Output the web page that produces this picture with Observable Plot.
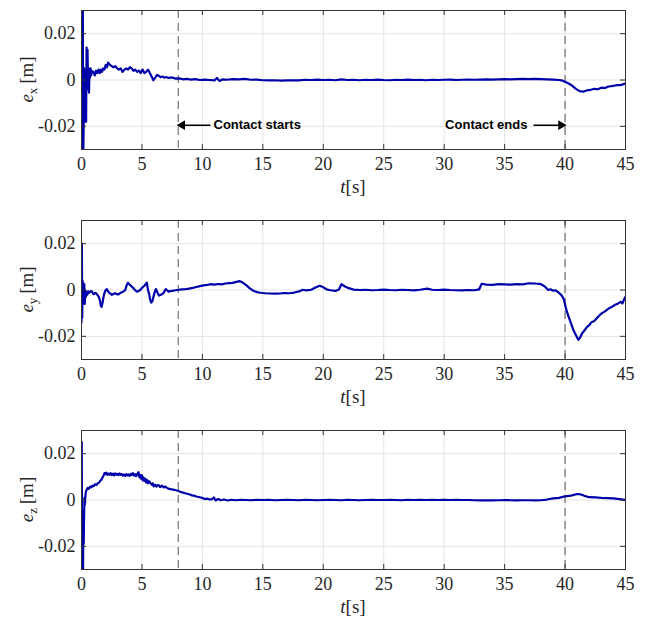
<!DOCTYPE html>
<html><head><meta charset="utf-8">
<script src="https://cdn.jsdelivr.net/npm/d3@7"></script>
<script src="https://cdn.jsdelivr.net/npm/@observablehq/plot@0.6"></script>
<style>body{margin:0;background:#fff}#chart svg{display:block}</style>
</head><body><div id="chart"></div>
<script>
const xTicks = [0, 5, 10, 15, 20, 25, 30, 35, 40, 45];
const yTicks = [-0.02, 0, 0.02];
const yDomain = [-0.03, 0.03];
const contactTimes = [8, 40];
const axisSubscripts = ["x", "y", "z"];
const annotationTexts = ["Contact starts", "Contact ends"];
const annotationTextT = [10.92, 36.89];
const annotationArrowTail = [10.67, 37.39];
const annotationY = -0.0195;

const exPoints = [[0,0],[0.02,-0.035],[0.05,0.035],[0.08,-0.035],[0.11,0.03],[0.14,-0.035],[0.18,-0.02],[0.22,0.005],[0.26,-0.018],[0.3,-0.017],[0.34,-0.005],[0.38,-0.018],[0.42,0.014],[0.46,0.005],[0.5,0.013],[0.54,-0.004],[0.58,0.005],[0.62,-0.0055],[0.66,0.004],[0.7,0.001],[0.75,0.005],[0.8,0.002],[0.85,0.004],[0.9,0.003],[1.0,0.0035],[1.1,0.002],[1.2,0.004],[1.3,0.003],[1.4,0.0045],[1.5,0.003],[1.6,0.0045],[1.7,0.0035],[1.8,0.005],[1.9,0.0045],[2.0,0.0065],[2.1,0.0055],[2.2,0.0075],[2.35,0.0065],[2.5,0.006],[2.65,0.0055],[2.8,0.006],[2.95,0.005],[3.1,0.0045],[3.25,0.005],[3.4,0.0035],[3.55,0.0045],[3.7,0.005],[3.85,0.0045],[4.0,0.0055],[4.15,0.005],[4.3,0.004],[4.45,0.0045],[4.6,0.0035],[4.75,0.004],[4.9,0.003],[5.05,0.0045],[5.2,0.003],[5.35,0.0035],[5.5,0.0045],[5.65,0.003],[5.8,0.0015],[5.95,-0.0001],[6.1,0.001],[6.25,0.0022],[6.4,0.0018],[6.55,0.0012],[6.7,0.0015],[6.85,0.001],[7.0,0.0013],[7.2,0.0009],[7.5,0.0011],[7.8,0.0006],[8.1,0.0007],[8.4,0.0003],[8.7,0.0005],[9.0,0.0002],[9.4,0.0004],[9.8,0.0],[10.2,0.0002],[10.6,0.0],[11.0,-0.0002],[11.2,0.0009],[11.4,-0.0004],[11.7,0.0003],[12.0,0.0001],[12.5,0.0004],[13.0,0.0003],[13.5,0.0005],[14.0,0.0001],[14.5,0.0002],[15.0,-0.0001],[15.5,-0.0002],[16.0,-0.0001],[16.5,-0.0003],[17.0,-0.0002],[17.5,-0.0001],[18.0,-0.0002],[18.5,0.0001],[19.0,0.0],[19.5,0.0002],[20.0,0.0],[20.5,0.0001],[21.0,-0.0001],[21.5,0.0003],[22.0,0.0],[22.5,0.0001],[23.0,-0.0001],[23.5,0.0001],[24.0,0.0],[24.5,0.0002],[25.0,0.0],[25.5,-0.0001],[26.0,0.0001],[26.5,0.0],[27.0,0.0002],[27.5,0.0],[28.0,0.0001],[28.5,-0.0001],[29.0,0.0001],[29.5,0.0],[30.0,0.0001],[30.5,0.0002],[31.0,0.0],[31.5,0.0001],[32.0,0.0002],[32.5,0.0001],[33.0,0.0002],[33.5,0.0003],[34.0,0.0002],[34.5,0.0003],[35.0,0.0004],[35.5,0.0003],[36.0,0.0004],[36.5,0.0005],[37.0,0.0004],[37.5,0.0005],[38.0,0.0004],[38.5,0.0003],[39.0,0.0002],[39.5,0.0],[39.8,-0.0003],[40.0,-0.0008],[40.3,-0.0015],[40.6,-0.0025],[40.9,-0.0038],[41.2,-0.0048],[41.5,-0.005],[41.8,-0.0045],[42.1,-0.0043],[42.4,-0.0038],[42.7,-0.004],[43.0,-0.0033],[43.3,-0.0035],[43.6,-0.0028],[44.0,-0.0025],[44.3,-0.0022],[44.6,-0.0022],[45.0,-0.0015]];

const eyPoints = [[0,-0.014],[0.03,0.02],[0.06,-0.012],[0.09,0.004],[0.12,-0.006],[0.15,0.003],[0.19,-0.004],[0.23,0.0025],[0.27,-0.006],[0.31,0.0],[0.36,-0.003],[0.42,-0.0008],[0.48,-0.002],[0.55,-0.0006],[0.62,-0.0012],[0.7,-0.0008],[0.78,-0.0004],[0.86,-0.0006],[0.94,-0.0015],[1.02,-0.0018],[1.12,-0.0012],[1.22,-0.0014],[1.32,-0.0022],[1.42,-0.0028],[1.52,-0.0045],[1.6,-0.0068],[1.66,-0.0073],[1.74,-0.0055],[1.82,-0.003],[1.9,-0.0013],[2.0,0.0],[2.1,0.0004],[2.2,-0.0006],[2.3,-0.0012],[2.4,-0.0016],[2.52,-0.0021],[2.64,-0.0017],[2.78,-0.0014],[2.92,-0.0018],[3.06,-0.0019],[3.2,-0.0013],[3.34,-0.001],[3.48,-0.0006],[3.62,0.0],[3.72,0.0018],[3.84,0.0031],[3.94,0.0026],[4.03,0.0021],[4.17,0.0014],[4.31,0.0007],[4.45,-0.0002],[4.58,-0.0007],[4.72,-0.0004],[4.86,0.0],[5.0,0.0009],[5.13,0.0015],[5.27,0.0022],[5.41,0.0032],[5.5,0.0],[5.6,-0.0018],[5.68,-0.0042],[5.77,-0.0054],[5.86,-0.0048],[5.96,-0.0028],[6.06,-0.0008],[6.15,0.0004],[6.24,-0.0005],[6.32,-0.0015],[6.42,-0.0024],[6.51,-0.0022],[6.65,-0.0018],[6.79,-0.0013],[6.9,-0.0002],[6.98,0.0004],[7.1,-0.0002],[7.2,-0.0007],[7.34,-0.0005],[7.48,-0.0004],[7.62,-0.0003],[7.76,-0.0001],[7.9,0.0],[8.05,0.0001],[8.3,0.0003],[8.6,0.0004],[8.9,0.0006],[9.2,0.0009],[9.5,0.0013],[9.8,0.0017],[10.1,0.002],[10.4,0.0022],[10.7,0.0025],[11.0,0.0023],[11.3,0.0026],[11.6,0.0024],[11.9,0.0028],[12.2,0.003],[12.5,0.0031],[12.8,0.0035],[13.1,0.0038],[13.3,0.0033],[13.6,0.0022],[13.9,0.0008],[14.2,-0.0003],[14.5,-0.0009],[14.8,-0.0012],[15.2,-0.0014],[15.6,-0.0015],[16.0,-0.0016],[16.4,-0.0015],[16.8,-0.0013],[17.2,-0.0014],[17.6,-0.0011],[18.0,-0.0006],[18.3,0.0001],[18.6,-0.0002],[19.0,0.0001],[19.4,0.0012],[19.7,0.0018],[20.0,0.0012],[20.3,0.0002],[20.6,-0.0001],[21.0,-0.0004],[21.3,0.0002],[21.5,0.0025],[21.8,0.0015],[22.1,0.0008],[22.5,0.0002],[23.0,0.0],[23.5,0.0001],[24.0,-0.0001],[24.5,0.0],[25.0,0.0002],[25.5,0.0],[26.0,-0.0001],[26.5,0.0001],[27.0,0.0],[27.5,-0.0002],[28.0,0.0001],[28.6,0.0006],[29.0,0.0001],[29.5,0.0],[30.0,0.0002],[30.5,0.0],[31.0,-0.0001],[31.5,-0.0002],[32.0,0.0],[32.5,-0.0001],[32.9,0.0003],[33.1,0.0027],[33.5,0.0023],[34.0,0.0022],[34.5,0.0025],[35.0,0.0024],[35.5,0.0023],[36.0,0.0025],[36.5,0.0024],[37.0,0.0029],[37.5,0.0028],[38.0,0.0025],[38.3,0.0016],[38.6,0.0],[38.8,0.0003],[39.0,-0.0003],[39.2,-0.0001],[39.4,-0.0008],[39.7,-0.0022],[39.9,-0.004],[40.1,-0.0085],[40.3,-0.0116],[40.5,-0.0145],[40.7,-0.0174],[40.9,-0.0195],[41.1,-0.0215],[41.25,-0.0205],[41.4,-0.0188],[41.6,-0.0175],[41.8,-0.016],[42.0,-0.0152],[42.2,-0.0138],[42.4,-0.0135],[42.6,-0.0123],[42.8,-0.0112],[43.0,-0.0102],[43.3,-0.0092],[43.6,-0.008],[43.9,-0.0072],[44.1,-0.0065],[44.4,-0.0058],[44.6,-0.0051],[44.75,-0.0058],[44.9,-0.0038],[45.0,-0.0029]];

const ezPoints = [[0,0.0],[0.02,0.025],[0.04,-0.01],[0.06,-0.035],[0.09,-0.005],[0.12,-0.035],[0.15,-0.012],[0.18,-0.019],[0.22,-0.005],[0.25,0.001],[0.28,-0.002],[0.31,0.001],[0.36,0.0035],[0.44,0.0046],[0.52,0.0052],[0.6,0.0048],[0.72,0.0058],[0.82,0.0055],[0.92,0.0062],[1.02,0.006],[1.13,0.0068],[1.24,0.0065],[1.35,0.0072],[1.45,0.0075],[1.55,0.0083],[1.65,0.0088],[1.74,0.0097],[1.82,0.0105],[1.9,0.0116],[1.98,0.0112],[2.06,0.0118],[2.14,0.0108],[2.24,0.0114],[2.34,0.0109],[2.42,0.0116],[2.51,0.0108],[2.6,0.0114],[2.7,0.0106],[2.79,0.0115],[2.88,0.0109],[2.97,0.0113],[3.06,0.0107],[3.15,0.0115],[3.25,0.0109],[3.34,0.0112],[3.43,0.0105],[3.52,0.011],[3.62,0.0104],[3.71,0.0112],[3.8,0.0106],[3.89,0.011],[3.98,0.0104],[4.08,0.0113],[4.17,0.0108],[4.26,0.0116],[4.35,0.0105],[4.44,0.0111],[4.53,0.0103],[4.62,0.0113],[4.72,0.012],[4.79,0.0098],[4.86,0.0108],[4.93,0.0092],[5.0,0.0107],[5.07,0.0085],[5.13,0.0097],[5.2,0.0082],[5.27,0.0092],[5.34,0.0076],[5.41,0.0087],[5.5,0.0072],[5.6,0.0081],[5.69,0.0074],[5.8,0.0066],[5.9,0.0072],[5.96,0.0059],[6.1,0.0066],[6.2,0.0058],[6.3,0.0064],[6.38,0.0064],[6.5,0.0056],[6.65,0.0062],[6.8,0.0054],[6.95,0.0058],[7.07,0.0052],[7.2,0.0049],[7.35,0.0047],[7.48,0.0046],[7.65,0.0044],[7.8,0.0042],[8.03,0.0039],[8.2,0.0035],[8.4,0.0032],[8.58,0.0029],[8.75,0.0027],[8.95,0.0024],[9.14,0.002],[9.3,0.0019],[9.5,0.0015],[9.69,0.0013],[9.85,0.0011],[10.0,0.0009],[10.2,0.0004],[10.38,0.0006],[10.6,0.0002],[10.8,0.0004],[10.95,0.0011],[11.1,-0.0002],[11.3,0.0005],[11.5,-0.0001],[11.8,0.0002],[12.1,-0.0002],[12.4,0.0001],[12.8,-0.0001],[13.2,0.0001],[13.6,0.0],[14.0,-0.0001],[14.5,0.0001],[15.0,0.0],[15.5,0.0001],[16.0,-0.0001],[16.5,0.0],[17.0,0.0001],[17.5,0.0],[18.0,-0.0001],[18.5,0.0001],[19.0,0.0],[19.5,-0.0001],[20.0,0.0],[20.5,0.0001],[21.0,0.0],[21.5,-0.0001],[22.0,0.0001],[22.5,0.0],[23.0,-0.0001],[23.5,0.0],[24.0,0.0001],[24.5,0.0],[25.0,0.0],[25.5,0.0001],[26.0,0.0],[26.5,-0.0001],[27.0,0.0001],[27.5,0.0],[28.0,0.0001],[28.5,0.0],[29.0,0.0001],[29.5,0.0],[30.0,0.0001],[30.5,0.0],[31.0,0.0001],[31.5,0.0],[32.0,0.0],[32.5,-0.0001],[33.0,-0.0002],[33.5,-0.0001],[34.0,-0.0002],[34.5,-0.0001],[35.0,0.0],[35.5,-0.0001],[36.0,-0.0002],[36.5,-0.0001],[37.0,-0.0001],[37.5,-0.0002],[38.0,-0.0001],[38.5,0.0002],[39.0,0.0007],[39.5,0.0009],[40.0,0.0016],[40.5,0.0019],[41.0,0.0026],[41.3,0.0024],[41.6,0.0018],[42.0,0.0012],[42.5,0.0011],[43.0,0.0009],[43.5,0.0008],[44.0,0.0007],[44.5,0.0004],[45.0,0.0]];

const seriesList = [exPoints, eyPoints, ezPoints];

const W = 648, ML = 81, MR = 23, MT = 10, INNER_H = 139;
const panelMarginBottom = [61, 61, 48];
const frameColor = "#333333";
const lineColor = "#0000aa";
const SERIF = "Liberation Serif";
const SANS = "Liberation Sans";

function makePanel(points, idx) {
  const mb = panelMarginBottom[idx];
  const H = MT + INNER_H + mb;
  const innerW = W - ML - MR;
  const data = points.map(([t, v]) => ({t, v}));
  const marks = [
    Plot.gridX(xTicks, {stroke: "#e4e4e4", strokeOpacity: 1}),
    Plot.gridY(yTicks, {stroke: "#e4e4e4", strokeOpacity: 1}),
    Plot.ruleX(contactTimes, {stroke: "#555", strokeDasharray: "8,5", strokeWidth: 1}),
    Plot.line(data, {x: "t", y: "v", stroke: lineColor, strokeWidth: 2.2, clip: true}),
    Plot.tickX(xTicks, {x: d => d, insetTop: INNER_H - 5, stroke: frameColor}),
    Plot.tickX(xTicks, {x: d => d, insetBottom: INNER_H - 5, stroke: frameColor}),
    Plot.tickY(yTicks, {y: d => d, insetRight: innerW - 5, stroke: frameColor}),
    Plot.tickY(yTicks, {y: d => d, insetLeft: innerW - 5, stroke: frameColor}),
    Plot.frame({stroke: frameColor}),
    Plot.axisX(xTicks, {tickSize: 0, tickPadding: 8, label: null, fill: "#262626", fontFamily: SERIF, fontSize: 18}),
    Plot.axisY(yTicks, {tickSize: 0, tickPadding: 6, label: null, fill: "#262626", fontFamily: SERIF, fontSize: 18,
      tickFormat: d => d === 0 ? "0" : String(d)})
  ];
  if (idx === 0) {
    const ann = annotationTexts.map((text, i) => ({
      text, tx: annotationTextT[i], tail: annotationArrowTail[i], head: contactTimes[i], y: annotationY
    }));
    marks.push(
      Plot.link(ann, {x1: "tail", x2: "head", y1: "y", y2: "y", stroke: "black", strokeWidth: 1.5}),
      Plot.dot([ann[0]], {x: "head", y: "y", symbol: "triangle", r: 3.6, fill: "black", rotate: -90, dx: 4}),
      Plot.dot([ann[1]], {x: "head", y: "y", symbol: "triangle", r: 3.6, fill: "black", rotate: 90, dx: -4}),
      Plot.text([ann[0]], {x: "tx", y: "y", text: "text", textAnchor: "start", fontFamily: SANS, fontWeight: "bold", fontSize: 13, fill: "black"}),
      Plot.text([ann[1]], {x: "tx", y: "y", text: "text", textAnchor: "end", fontFamily: SANS, fontWeight: "bold", fontSize: 13, fill: "black"})
    );
  }
  const plot = Plot.plot({
    width: W, height: H,
    marginLeft: ML, marginRight: MR, marginTop: MT, marginBottom: mb,
    x: {domain: [0, 45]},
    y: {domain: yDomain},
    style: {fontFamily: SERIF, fontSize: "18px", color: "#262626", background: "white"},
    marks
  });
  plot.setAttribute("font-family", SERIF);
  plot.setAttribute("font-size", "18");
  const svg = d3.select(plot);
  svg.selectAll('g[aria-label$="tick label"] text').attr("font-family", SERIF).attr("font-size", 18);
  const y0 = plot.scale("y").apply(0);
  const ylab = svg.append("text")
    .attr("transform", `translate(33,${y0}) rotate(-90)`)
    .attr("text-anchor", "middle")
    .attr("fill", "#262626")
    .attr("font-family", SERIF)
    .attr("font-size", 19);
  ylab.append("tspan").attr("font-style", "italic").text("e");
  ylab.append("tspan").attr("dy", 4).attr("font-size", 13).text(axisSubscripts[idx]);
  ylab.append("tspan").attr("dy", -4).text("\u2009[m]");
  const xc = plot.scale("x").apply(22.5);
  const xlab = svg.append("text")
    .attr("x", xc).attr("y", MT + INNER_H + 44)
    .attr("text-anchor", "middle")
    .attr("fill", "#262626")
    .attr("font-family", SERIF)
    .attr("font-size", 19);
  xlab.append("tspan").attr("font-style", "italic").text("t");
  xlab.append("tspan").text("[s]");
  return plot;
}

const chart = document.getElementById("chart");
seriesList.forEach((pts, i) => chart.appendChild(makePanel(pts, i)));
</script>
</body></html>
